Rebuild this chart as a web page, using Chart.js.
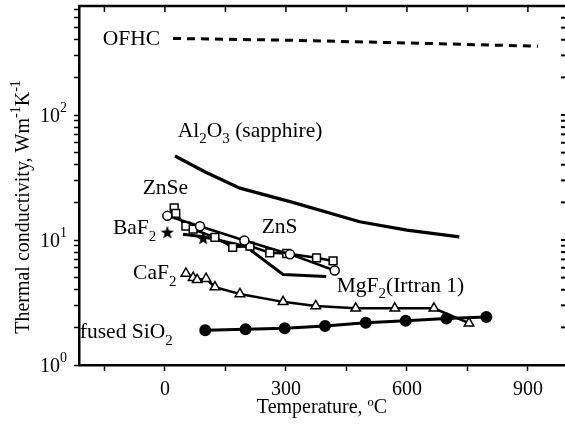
<!DOCTYPE html>
<html lang="en">
<head>
    <meta charset="UTF-8">
    <title>Thermal conductivity vs temperature</title>
    <script src="https://cdn.jsdelivr.net/npm/chart.js"></script>
    <style>
        body {
            margin: 0;
            background: #fff;
            overflow: hidden;
        }
        canvas {
            display: block;
        }
    </style>
</head>
<body>
<canvas id="tcChart" width="565" height="432"></canvas>

<script>
    // temperatures in degC, conductivity in W m-1 K-1
    const ofhcT = [20, 300, 600, 925];
    const ofhcK = [410, 397, 377, 355];

    const sapphireT = [25, 100, 186, 317, 483, 600, 730];
    const sapphireK = [47, 35, 26, 20, 14, 12, 10.6];

    const znseT = [23, 27, 52, 70, 124, 168, 211, 260, 302, 376, 417];
    const znseK = [18.1, 16.3, 12.9, 12.2, 10.5, 8.74, 8.95, 7.9, 7.8, 7.2, 6.8];

    const znsT = [6, 87, 197, 310, 421];
    const znsK = [15.6, 12.9, 9.9, 7.7, 5.7];

    const mgf2T = [45, 95, 200, 293, 400];
    const mgf2K = [11.1, 10.6, 8.9, 5.3, 5.1];

    const baf2T = [6, 95];
    const baf2K = [11.6, 10.4];

    const caf2T = [52, 70, 80, 102, 124, 186, 293, 374, 473, 570, 667, 754];
    const caf2K = [5.4, 5.0, 4.8, 4.9, 4.2, 3.7, 3.2, 2.97, 2.84, 2.84, 2.84, 2.16];

    const sio2T = [100, 200, 297, 397, 498, 597, 698, 797];
    const sio2K = [1.9, 1.93, 1.97, 2.05, 2.18, 2.26, 2.35, 2.42];

    const xTickVals = [-150, 0, 150, 300, 450, 600, 750, 900];
    const yTickVals = [1, 2, 3, 4, 5, 6, 7, 8, 9, 10, 20, 30, 40, 50, 60, 70, 80, 90, 100, 200, 300, 400, 500, 600, 700];
    const yLabelVals = [1, 10, 100];

    // curve names, placed in data coordinates (left edge, vertical middle)
    const curveLabels = [
        { parts: [['OFHC']], t: -154, k: 413 },
        { parts: [['Al'], ['2', 'sub'], ['O'], ['3', 'sub'], [' (sapphire)']], t: 32, k: 76 },
        { parts: [['ZnSe']], t: -55, k: 26.5 },
        { parts: [['BaF'], ['2', 'sub']], t: -129, k: 12.7 },
        { parts: [['ZnS']], t: 240, k: 12.9 },
        { parts: [['CaF'], ['2', 'sub']], t: -79, k: 5.55 },
        { parts: [['MgF'], ['2', 'sub'], ['(Irtran 1)']], t: 426, k: 4.37 },
        { parts: [['fused SiO'], ['2', 'sub']], t: -211, k: 1.87 }
    ];

    const FONT = '"Liberation Serif", "Times New Roman", serif';

    function pts(ts, ks) {
        return ts.map((t, i) => ({ x: t, y: ks[i] }));
    }

    function makeStar(size) {
        const c = document.createElement('canvas');
        c.width = size;
        c.height = size;
        const g = c.getContext('2d');
        const cx = size / 2, cy = size / 2 + 0.8, R = size / 2, r = R * 0.42;
        g.beginPath();
        for (let i = 0; i < 10; i++) {
            const a = -Math.PI / 2 + i * Math.PI / 5;
            const rr = i % 2 ? r : R;
            g.lineTo(cx + rr * Math.cos(a), cy + rr * Math.sin(a));
        }
        g.closePath();
        g.fillStyle = '#000';
        g.fill();
        return c;
    }

    // text with sub/superscript pieces
    function richWidth(ctx, parts, size) {
        let w = 0;
        parts.forEach(p => {
            ctx.font = (p[1] ? Math.round(size * 0.7) : size) + 'px ' + FONT;
            w += ctx.measureText(p[0]).width;
        });
        return w;
    }

    function drawRich(ctx, parts, x, y, size) {
        ctx.textAlign = 'left';
        ctx.textBaseline = 'alphabetic';
        const base = y + size * 0.33;
        parts.forEach(p => {
            let dy = 0;
            if (p[1] === 'sub') dy = size * 0.3;
            if (p[1] === 'sup') dy = -size * 0.42;
            ctx.font = (p[1] ? Math.round(size * 0.7) : size) + 'px ' + FONT;
            ctx.fillText(p[0], x, base + dy);
            x += ctx.measureText(p[0]).width;
        });
    }

    const decorations = {
        id: 'decorations',
        afterDraw(chart) {
            const ctx = chart.ctx;
            const a = chart.chartArea;
            const xs = chart.scales.x;
            const ys = chart.scales.y;
            ctx.save();
            ctx.strokeStyle = '#000';
            ctx.fillStyle = '#000';

            // top frame line with inward ticks
            ctx.lineWidth = 2.5;
            ctx.beginPath();
            ctx.moveTo(a.left - 1, a.top);
            ctx.lineTo(a.right, a.top);
            ctx.stroke();
            ctx.lineWidth = 1.5;
            xTickVals.forEach(v => {
                const px = xs.getPixelForValue(v);
                ctx.beginPath();
                ctx.moveTo(px, a.top);
                ctx.lineTo(px, a.top + 6);
                ctx.stroke();
            });

            // right side ticks (the axis itself falls outside the picture)
            ctx.lineWidth = 2;
            yTickVals.forEach(v => {
                const py = ys.getPixelForValue(v);
                if (py < a.top + 4) return;
                ctx.beginPath();
                ctx.moveTo(a.right - 4, py);
                ctx.lineTo(a.right, py);
                ctx.stroke();
            });

            // y tick labels 10^n
            yLabelVals.forEach(v => {
                const py = ys.getPixelForValue(v);
                ctx.font = '20px ' + FONT;
                ctx.textAlign = 'right';
                ctx.textBaseline = 'alphabetic';
                ctx.fillText('10', 60, py + 7);
                ctx.font = '14px ' + FONT;
                ctx.textAlign = 'left';
                ctx.fillText(String(Math.round(Math.log10(v))), 60, py - 3);
            });

            // axis titles
            const xTitle = [['Temperature, ºC']];
            const xw = richWidth(ctx, xTitle, 20);
            drawRich(ctx, xTitle, 322 - xw / 2, 406, 20);

            const yTitle = [['Thermal conductivity, Wm'], ['-1', 'sup'], ['K'], ['-1', 'sup']];
            const yw = richWidth(ctx, yTitle, 20);
            ctx.save();
            ctx.translate(22, 207);
            ctx.rotate(-Math.PI / 2);
            drawRich(ctx, yTitle, -yw / 2, 0, 20);
            ctx.restore();

            // curve names
            curveLabels.forEach(l => {
                drawRich(ctx, l.parts, xs.getPixelForValue(l.t), ys.getPixelForValue(l.k), 21.5);
            });
            ctx.restore();
        }
    };

    const star = makeStar(14);

    const lineBase = {
        borderColor: '#000',
        backgroundColor: '#000',
        borderWidth: 2.5,
        tension: 0,
        pointRadius: 0
    };

    const ctx = document.getElementById('tcChart').getContext('2d');
    new Chart(ctx, {
        type: 'line',
        data: {
            datasets: [
                Object.assign({}, lineBase, { label: 'OFHC', data: pts(ofhcT, ofhcK), borderDash: [8, 6], borderWidth: 3 }),
                Object.assign({}, lineBase, { label: 'Al2O3', data: pts(sapphireT, sapphireK), borderWidth: 3.2 }),
                Object.assign({}, lineBase, {
                    label: 'BaF2', data: pts(baf2T, baf2K), showLine: false,
                    pointStyle: star, pointRadius: 7
                }),
                Object.assign({}, lineBase, {
                    label: 'ZnS', data: pts(znsT, znsK), pointStyle: 'circle',
                    pointRadius: 4.5, pointBackgroundColor: '#fff', pointBorderColor: '#000', pointBorderWidth: 1.5
                }),
                Object.assign({}, lineBase, {
                    label: 'ZnSe', data: pts(znseT, znseK), pointStyle: 'rect',
                    pointRadius: 5.5, pointBackgroundColor: '#fff', pointBorderColor: '#000', pointBorderWidth: 1.5
                }),
                Object.assign({}, lineBase, { label: 'MgF2', data: pts(mgf2T, mgf2K), borderWidth: 3 }),
                Object.assign({}, lineBase, {
                    label: 'CaF2', data: pts(caf2T, caf2K), pointStyle: 'triangle',
                    pointRadius: 5.5, pointBackgroundColor: '#fff', pointBorderColor: '#000', pointBorderWidth: 1.5
                }),
                Object.assign({}, lineBase, {
                    label: 'fused SiO2', data: pts(sio2T, sio2K), pointStyle: 'circle',
                    pointRadius: 4.5, pointBackgroundColor: '#000', borderWidth: 3
                })
            ]
        },
        options: {
            responsive: false,
            animation: false,
            layout: { autoPadding: false, padding: { top: 6, right: 0, left: 0, bottom: 0 } },
            plugins: {
                legend: { display: false },
                tooltip: { enabled: false }
            },
            scales: {
                x: {
                    type: 'linear',
                    min: -213,
                    max: 992,
                    afterBuildTicks: s => { s.ticks = xTickVals.map(v => ({ value: v })); },
                    afterFit: s => { s.height = 67; },
                    grid: { drawOnChartArea: false, drawTicks: true, tickLength: 6, tickWidth: 1.5, tickColor: '#000' },
                    border: { display: true, width: 2.5, color: '#000' },
                    ticks: {
                        autoSkip: false,
                        maxRotation: 0,
                        padding: 7,
                        color: '#000',
                        font: { family: FONT, size: 20 },
                        callback: v => (v % 300 === 0 ? String(v) : '')
                    }
                },
                y: {
                    type: 'logarithmic',
                    min: 1,
                    max: 745,
                    afterBuildTicks: s => { s.ticks = yTickVals.map(v => ({ value: v })); },
                    afterFit: s => { s.width = 79; },
                    grid: { drawOnChartArea: false, drawTicks: true, tickLength: 5, tickWidth: 1.5, tickColor: '#000' },
                    border: { display: true, width: 2.5, color: '#000' },
                    ticks: { display: false }
                }
            }
        },
        plugins: [decorations]
    });
</script>
</body>
</html>
